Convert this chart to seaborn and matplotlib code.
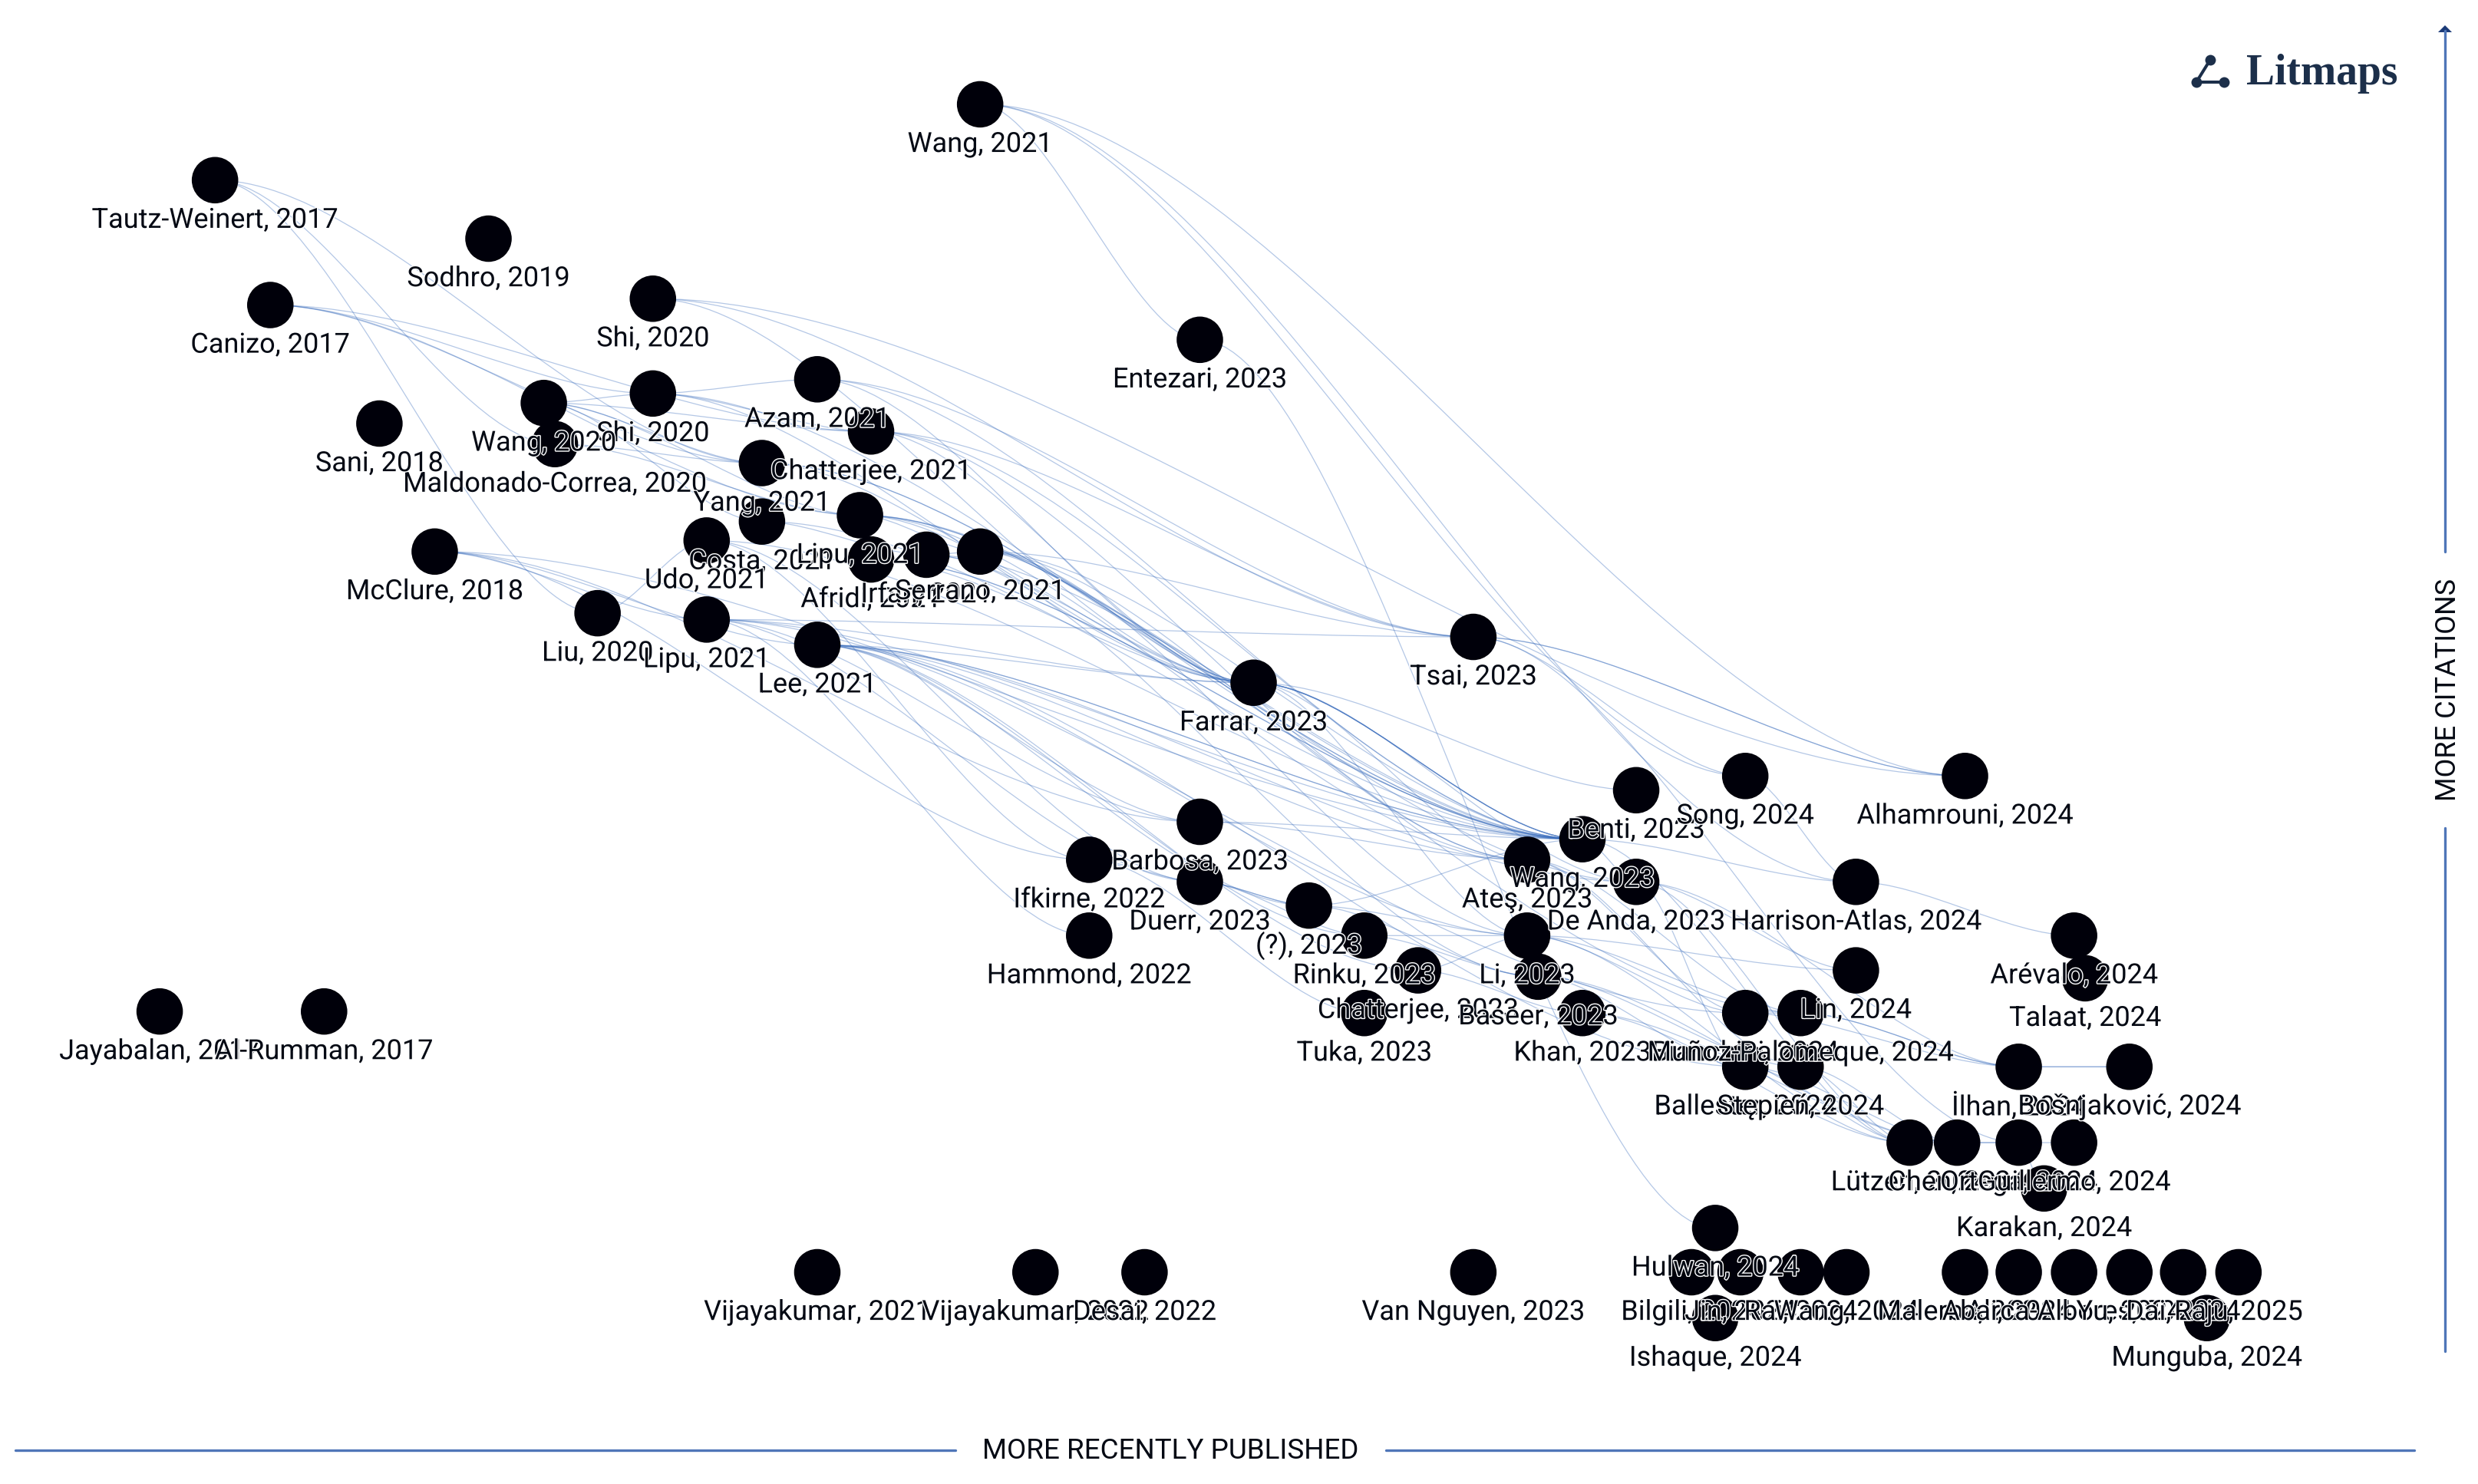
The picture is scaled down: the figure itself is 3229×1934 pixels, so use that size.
import pandas as pd
import seaborn as sns
import matplotlib.pyplot as plt
import matplotlib.patheffects as pe
from matplotlib.patches import PathPatch
from matplotlib.path import Path

# Papers: key, label, position along "more recently published", position along "more citations"
keys = ['wang21', 'tautz', 'sodhro', 'canizo', 'shi_a', 'entezari', 'shi_b', 'azam', 'wang20', 'maldonado',
        'sani', 'chat21', 'yang', 'costa', 'udo', 'lipu_a', 'afridi', 'irfan', 'serrano', 'mcclure',
        'liu', 'lipu_b', 'lee', 'farrar', 'tsai', 'benti', 'song', 'alhamrouni', 'wang23', 'ates',
        'deanda', 'harrison', 'barbosa', 'ifkirne', 'duerr', 'hammond', 'unknown', 'rinku', 'chat23', 'tuka',
        'li', 'baseer', 'khan', 'lin', 'arevalo', 'talaat', 'bi', 'munoz', 'ballester', 'stepien',
        'ilhan', 'bosnjakovic', 'lutzen', 'chen', 'ortega', 'guillermo', 'karakan', 'hulwan', 'bilgili', 'jin',
        'rai', 'yu_a', 'malerba', 'ali', 'abarca', 'yu_b', 'dai', 'raju', 'ishaque', 'munguba',
        'jayabalan', 'rumman', 'vijay21', 'vijay22', 'desai', 'vannguyen']
labels = ['Wang, 2021', 'Tautz-Weinert, 2017', 'Sodhro, 2019', 'Canizo, 2017', 'Shi, 2020', 'Entezari, 2023',
          'Shi, 2020', 'Azam, 2021', 'Wang, 2020', 'Maldonado-Correa, 2020', 'Sani, 2018', 'Chatterjee, 2021',
          'Yang, 2021', 'Costa, 2021', 'Udo, 2021', 'Lipu, 2021', 'Afridi, 2021', 'Irfan, 2021', 'Serrano, 2021',
          'McClure, 2018', 'Liu, 2020', 'Lipu, 2021', 'Lee, 2021', 'Farrar, 2023', 'Tsai, 2023', 'Benti, 2023',
          'Song, 2024', 'Alhamrouni, 2024', 'Wang, 2023', 'Ateş, 2023', 'De Anda, 2023', 'Harrison-Atlas, 2024',
          'Barbosa, 2023', 'Ifkirne, 2022', 'Duerr, 2023', 'Hammond, 2022', '(?), 2023', 'Rinku, 2023',
          'Chatterjee, 2023', 'Tuka, 2023', 'Li, 2023', 'Baseer, 2023', 'Khan, 2023', 'Lin, 2024',
          'Arévalo, 2024', 'Talaat, 2024', 'Bianchini, 2024', 'Muñoz-Palomeque, 2024', 'Ballester, 2024',
          'Stępień, 2024', 'İlhan, 2024', 'Bošnjaković, 2024', 'Lützen, 2024', 'Chen, 2024', 'Ortega, 2024',
          'Guillermo, 2024', 'Karakan, 2024', 'Hulwan, 2024', 'Bilgili, 2024', 'Jin, 2024', 'Rai, 2024',
          'Wang, 2024', 'Malerba, 2024', 'Ali, 2024', 'Abarca-Albores, 2024', 'Yu, 2024', 'Dai, 2024',
          'Raju, 2025', 'Ishaque, 2024', 'Munguba, 2024', 'Jayabalan, 2017', 'Al-Rumman, 2017',
          'Vijayakumar, 2021', 'Vijayakumar, 2022', 'Desai, 2022', 'Van Nguyen, 2023']
pub_pos = [620, 136, 309, 171, 413, 759, 413, 517, 344, 351, 240, 551, 482, 482, 447, 544, 551, 586, 620, 275,
           378, 447, 517, 793, 932, 1035, 1104, 1243, 1001, 966, 1035, 1174, 759, 689, 759, 689, 828, 863, 897, 863,
           966, 973, 1001, 1174, 1312, 1319, 1104, 1139, 1104, 1139, 1277, 1347, 1208, 1238, 1277, 1312, 1293, 1085, 1070, 1101,
           1139, 1168, 1243, 1277, 1312, 1347, 1381, 1416, 1085, 1396, 101, 205, 517, 655, 724, 932]
cite_pos = [66, 114, 151, 193, 189, 215, 249, 240, 255, 281, 268, 273, 293, 330, 342, 326, 354, 351, 349, 349,
            388, 392, 408, 432, 403, 500, 491, 491, 531, 544, 558, 558, 520, 544, 558, 592, 573, 592, 614, 641,
            592, 618, 641, 614, 592, 619, 641, 641, 675, 675, 675, 675, 723, 723, 723, 723, 752, 777, 805, 805,
            805, 805, 805, 805, 805, 805, 805, 805, 834, 834, 640, 640, 805, 805, 805, 805]

# Citation links (older paper -> newer paper)
edge_from = ['wang21', 'wang21', 'wang21', 'wang21', 'tautz', 'tautz', 'tautz', 'canizo', 'canizo', 'canizo', 'canizo',
             'shi_a', 'shi_a', 'shi_a', 'shi_b', 'shi_b', 'shi_b', 'shi_b', 'wang20', 'wang20', 'wang20', 'wang20',
             'wang20', 'maldonado', 'maldonado', 'azam', 'azam', 'chat21', 'chat21', 'chat21', 'yang', 'yang', 'costa',
             'costa', 'udo', 'udo', 'lipu_a', 'lipu_a', 'lipu_a', 'lipu_a', 'afridi', 'afridi', 'irfan', 'irfan',
             'serrano', 'serrano', 'serrano', 'serrano', 'mcclure', 'mcclure', 'mcclure', 'mcclure', 'liu', 'lipu_b',
             'lipu_b', 'lipu_b', 'lipu_b', 'lipu_b', 'lipu_b', 'lee', 'lee', 'lee', 'lee', 'lee', 'lee', 'lee',
             'entezari', 'farrar', 'farrar', 'farrar', 'farrar', 'farrar', 'farrar', 'tsai', 'tsai', 'tsai', 'tsai',
             'song', 'harrison', 'barbosa', 'barbosa', 'ifkirne', 'ifkirne', 'duerr', 'duerr', 'duerr', 'unknown',
             'unknown', 'unknown', 'rinku', 'rinku', 'chat23', 'chat23', 'ates', 'ates', 'wang23', 'wang23', 'deanda',
             'deanda', 'deanda', 'li', 'li', 'li', 'baseer', 'baseer', 'khan', 'khan', 'bi', 'bi', 'munoz', 'munoz',
             'ballester', 'ballester', 'stepien', 'stepien', 'ilhan', 'ilhan', 'lutzen', 'chen', 'chen', 'ortega', 'ortega',
             'azam', 'afridi', 'irfan', 'lee', 'yang', 'mcclure', 'udo', 'chat21', 'farrar', 'farrar', 'lee', 'lee',
             'lipu_a', 'serrano', 'irfan', 'lipu_a', 'lipu_b', 'lee', 'ates', 'wang23', 'li', 'deanda', 'baseer']
edge_to = ['entezari', 'song', 'alhamrouni', 'harrison', 'liu', 'maldonado', 'yang', 'shi_b', 'chat21', 'yang', 'lipu_a',
           'tsai', 'alhamrouni', 'farrar', 'azam', 'chat21', 'farrar', 'wang23', 'shi_b', 'chat21', 'yang', 'costa',
           'lipu_a', 'yang', 'lipu_a', 'tsai', 'farrar', 'tsai', 'farrar', 'ates', 'farrar', 'wang23', 'irfan',
           'wang23', 'ifkirne', 'duerr', 'serrano', 'farrar', 'wang23', 'ates', 'farrar', 'wang23', 'serrano', 'farrar',
           'tsai', 'farrar', 'wang23', 'ates', 'lipu_b', 'lee', 'barbosa', 'ifkirne', 'udo', 'tsai',
           'farrar', 'wang23', 'barbosa', 'duerr', 'hammond', 'farrar', 'wang23', 'ates', 'barbosa', 'unknown', 'rinku', 'chat23',
           'hulwan', 'wang23', 'wang23', 'ates', 'benti', 'deanda', 'li', 'song', 'alhamrouni', 'alhamrouni', 'ortega',
           'harrison', 'arevalo', 'wang23', 'ates', 'duerr', 'tuka', 'unknown', 'unknown', 'rinku', 'wang23',
           'li', 'baseer', 'li', 'baseer', 'li', 'khan', 'munoz', 'bi', 'harrison', 'deanda', 'lin',
           'ballester', 'ilhan', 'lin', 'bi', 'munoz', 'ballester', 'stepien', 'lutzen', 'chen', 'munoz', 'ilhan', 'ilhan', 'ilhan',
           'lutzen', 'chen', 'lutzen', 'chen', 'bosnjakovic', 'bosnjakovic', 'chen', 'ortega', 'ortega', 'guillermo', 'karakan',
           'wang23', 'wang23', 'wang23', 'wang23', 'wang23', 'wang23', 'wang23', 'wang23', 'wang23', 'wang23', 'deanda', 'li',
           'deanda', 'li', 'baseer', 'munoz', 'bi', 'ballester', 'stepien', 'lutzen', 'lutzen', 'lutzen', 'chen']

nodes = pd.DataFrame({'key': keys, 'label': labels, 'x': pub_pos, 'y': cite_pos}).set_index('key')

sns.set_theme(style='white')
plt.rcParams['font.family'] = ['Roboto', 'DejaVu Sans']

fig = plt.figure(figsize=(32.3, 19.34), dpi=100)
ax = fig.add_axes([0, 0, 1, 1])

# links as cubic curves leaving and entering each paper horizontally
for a, b in zip(edge_from, edge_to):
    x0, y0 = nodes.loc[a, ['x', 'y']]
    x1, y1 = nodes.loc[b, ['x', 'y']]
    bend = 0.3 * (x1 - x0)
    path = Path([(x0, y0), (x0 + bend, y0), (x1 - bend, y1), (x1, y1)],
                [Path.MOVETO, Path.CURVE4, Path.CURVE4, Path.CURVE4])
    ax.add_patch(PathPatch(path, fc='none', ec='#3a6dbd', lw=0.9, alpha=0.38, zorder=1))

sns.scatterplot(data=nodes, x='x', y='y', s=1900, color='#00000a', edgecolor='none', legend=False, ax=ax, zorder=2)

for _, row in nodes.iterrows():
    ax.text(row['x'], row['y'] + 25.3, row['label'], fontsize=26, color='#050a14', ha='center', va='center', zorder=3,
            path_effects=[pe.withStroke(linewidth=2, foreground='white')])

ax.set_xlim(0, 1568)
ax.set_ylim(939, 0)
ax.axis('off')

# axis arrows, titles and logo, placed in image pixels
deco = fig.add_axes([0, 0, 1, 1], facecolor='none')
deco.set_xlim(0, 3230)
deco.set_ylim(1934, 0)
deco.axis('off')

axis_col = '#4f76b8'
deco.plot([20, 1245], [1890, 1890], color=axis_col, lw=2.4)
deco.plot([1806, 3146], [1890, 1890], color=axis_col, lw=2.4)
deco.plot([3186, 3186], [40, 719], color=axis_col, lw=2.4)
deco.plot([3186, 3186], [1079, 1761], color=axis_col, lw=2.4)
deco.fill([3177, 3186, 3195], [42, 33, 42], color='#1b3a78', lw=0)
deco.text(1525, 1891, 'MORE RECENTLY PUBLISHED', fontsize=26.5, color='#050a14', ha='center', va='center')
deco.text(3190, 899, 'MORE CITATIONS', fontsize=26, color='#050a14', ha='center', va='center', rotation=90)

logo_col = '#1c2f4a'
deco.plot([2880, 2862, 2898], [78, 107, 107], color=logo_col, lw=2.9, marker='o', ms=10, mew=0)
deco.text(2927, 110, 'Litmaps', fontsize=40, fontweight='bold', family='Liberation Serif', color=logo_col,
          ha='left', va='baseline')

fig.savefig('out.png', dpi=100, facecolor='white')
